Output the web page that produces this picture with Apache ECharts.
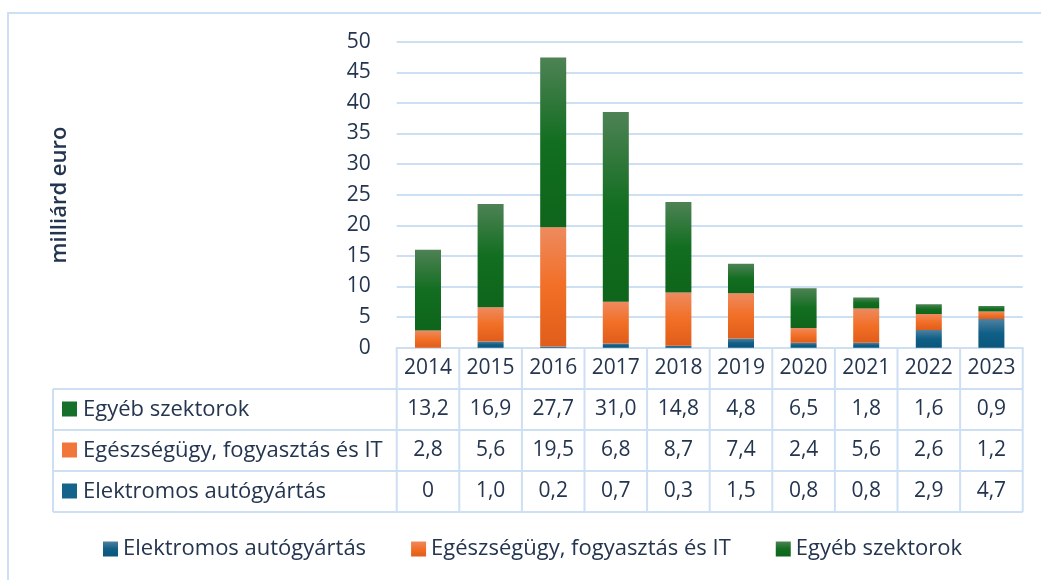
<!DOCTYPE html>
<html>
<head>
<meta charset="utf-8">
<script src="https://cdn.jsdelivr.net/npm/echarts@6/dist/echarts.min.js"></script>
<style>
  html, body { margin: 0; padding: 0; background: #ffffff; }
  #chart { width: 1041px; height: 580px; }
</style>
</head>
<body>
<div id="chart"></div>
<script>
// Annual investment by sector, billion euro
const years = ['2014', '2015', '2016', '2017', '2018', '2019', '2020', '2021', '2022', '2023'];
const seriesNames = ['Elektromos autógyártás', 'Egészségügy, fogyasztás és IT', 'Egyéb szektorok'];
const electricCars = [0, 1.0, 0.2, 0.7, 0.3, 1.5, 0.8, 0.8, 2.9, 4.7];
const healthConsumerIT = [2.8, 5.6, 19.5, 6.8, 8.7, 7.4, 2.4, 5.6, 2.6, 1.2];
const otherSectors = [13.2, 16.9, 27.7, 31.0, 14.8, 4.8, 6.5, 1.8, 1.6, 0.9];
const yTicks = [0, 5, 10, 15, 20, 25, 30, 35, 40, 45, 50];

const FONT = '"Open Sans", "Noto Sans", sans-serif';
const TEXT = '#243550';
const LINE = '#cddff2';
const NUM_SIZE = 21;
const NAME_SIZE = 22;

function grad(top, mid, bottom) {
  return new echarts.graphic.LinearGradient(0, 0, 0, 1, [
    { offset: 0, color: top },
    { offset: 0.5, color: mid },
    { offset: 1, color: bottom }
  ]);
}
const fills = [
  grad('#4f81a0', '#0f5f87', '#0b567b'),
  grad('#ee8a5f', '#f26f26', '#e05d1b'),
  grad('#4e8255', '#126e20', '#0e651b')
];
const swatches = ['#15628a', '#f0763a', '#15702a'];

function fmt(v) {
  return v === 0 ? '0' : v.toFixed(1).replace('.', ',');
}

const chart = echarts.init(document.getElementById('chart'));

const grid = { left: 396.7, right: 18.3, top: 41.7, bottom: 232.3 };

chart.setOption({
  animation: false,
  textStyle: { fontFamily: FONT },
  grid: grid,
  legend: {
    data: seriesNames,
    left: 103,
    top: 538,
    padding: 0,
    icon: 'rect',
    itemWidth: 15,
    itemHeight: 15,
    itemGap: 45,
    textStyle: { fontFamily: FONT, fontSize: NAME_SIZE, lineHeight: 22, color: TEXT }
  },
  xAxis: {
    type: 'category',
    data: years,
    axisLine: { show: true, lineStyle: { color: LINE, width: 2 } },
    axisTick: { show: false },
    axisLabel: { fontFamily: FONT, fontSize: NUM_SIZE, color: TEXT, margin: 10, lineHeight: 20 }
  },
  yAxis: {
    type: 'value',
    min: yTicks[0],
    max: yTicks[yTicks.length - 1],
    interval: yTicks[1] - yTicks[0],
    axisLine: { show: false },
    axisTick: { show: false },
    splitLine: { lineStyle: { color: LINE, width: 2 } },
    axisLabel: { fontFamily: FONT, fontSize: NUM_SIZE, color: TEXT, margin: 26 }
  },
  series: [electricCars, healthConsumerIT, otherSectors].map((d, i) => ({
    name: seriesNames[i],
    type: 'bar',
    stack: 'total',
    data: d,
    barWidth: 26,
    itemStyle: { color: fills[i] }
  }))
});

// Data table under the axis, laid out on the category positions
const rowsTop = 389, rowH = 41, tableLeft = 53;
const centers = years.map((y, i) => chart.convertToPixel({ xAxisIndex: 0 }, i));
const step = centers.length > 1 ? centers[1] - centers[0] : 60;
const xStart = centers[0] - step / 2;
const xEnd = centers[centers.length - 1] + step / 2;
const axisY = chart.convertToPixel({ yAxisIndex: 0 }, 0);
const tableBottom = rowsTop + rowH * 3;

const g = [];
// frame around the whole chart
g.push({ type: 'rect', shape: { x: 8, y: 13, width: 1100, height: 700 },
  style: { fill: null, stroke: LINE, lineWidth: 2 }, silent: true });
// vertical separators for year columns
for (let i = 0; i <= years.length; i++) {
  const x = xStart + step * i;
  g.push({ type: 'line', shape: { x1: x, y1: axisY, x2: x, y2: tableBottom },
    style: { stroke: LINE, lineWidth: 2 }, silent: true });
}
// left edge of the name column
g.push({ type: 'line', shape: { x1: tableLeft, y1: rowsTop, x2: tableLeft, y2: tableBottom },
  style: { stroke: LINE, lineWidth: 2 }, silent: true });
// horizontal row lines
for (let r = 0; r <= 3; r++) {
  const y = rowsTop + rowH * r;
  g.push({ type: 'line', shape: { x1: tableLeft, y1: y, x2: xEnd, y2: y },
    style: { stroke: LINE, lineWidth: 2 }, silent: true });
}
// rows listed top-down: other, health, electric
const tableRows = [
  { name: seriesNames[2], values: otherSectors, color: swatches[2] },
  { name: seriesNames[1], values: healthConsumerIT, color: swatches[1] },
  { name: seriesNames[0], values: electricCars, color: swatches[0] }
];
tableRows.forEach((row, r) => {
  const cy = rowsTop + rowH * r + rowH / 2;
  g.push({ type: 'rect', shape: { x: 62, y: cy - 8, width: 15, height: 15 },
    style: { fill: row.color }, silent: true });
  g.push({ type: 'text', x: 83, y: cy,
    style: { text: row.name, fill: TEXT, font: NAME_SIZE + 'px ' + FONT, align: 'left', verticalAlign: 'middle' },
    silent: true });
  row.values.forEach((v, i) => {
    g.push({ type: 'text', x: centers[i], y: cy,
      style: { text: fmt(v), fill: TEXT, font: NUM_SIZE + 'px ' + FONT, align: 'center', verticalAlign: 'middle' },
      silent: true });
  });
});
// y axis title
g.push({ type: 'text', x: 60, y: 195, rotation: Math.PI / 2,
  style: { text: 'milliárd euro', fill: TEXT, font: '600 22px ' + FONT, align: 'center', verticalAlign: 'middle' },
  silent: true });

chart.setOption({ graphic: g });
</script>
</body>
</html>
